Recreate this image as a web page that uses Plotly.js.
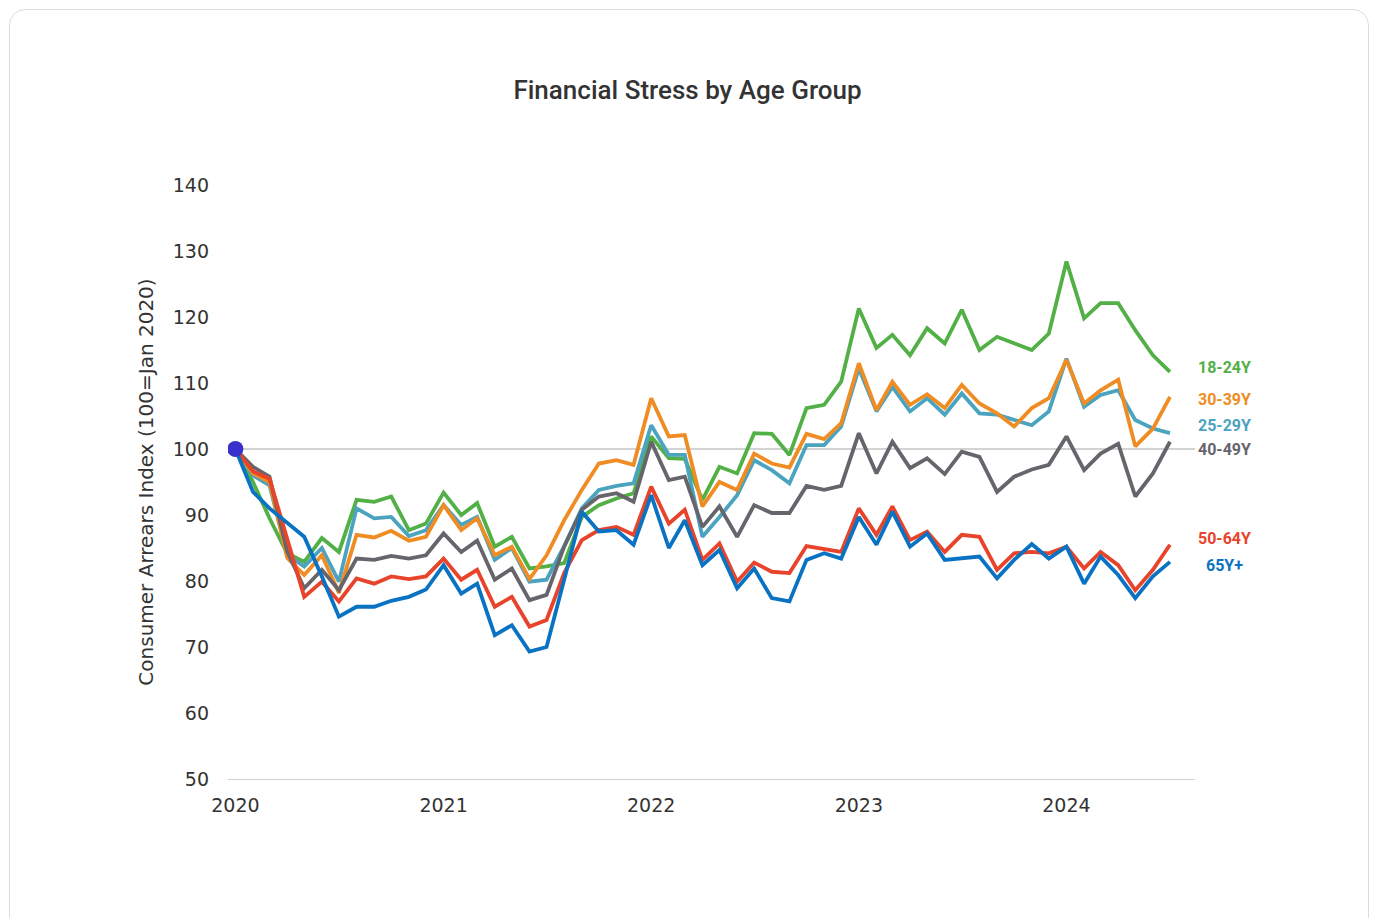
<!DOCTYPE html>
<html>
<head>
<meta charset="utf-8">
<script src="https://cdn.plot.ly/plotly-3.0.1.min.js"></script>
<style>
  html, body { margin: 0; padding: 0; background: #ffffff; width: 1375px; height: 918px; overflow: hidden; }
  #card { position: absolute; left: 9px; top: 9px; width: 1360px; height: 930px; border: 1px solid #dcdcdc; border-radius: 16px; box-sizing: border-box; pointer-events: none; z-index: 2; }
  #chart { position: absolute; left: 0; top: 0; width: 1375px; height: 918px; z-index: 1; }
</style>
</head>
<body>
<div id="chart"></div>
<div id="card"></div>
<script>
// Monthly dates Jan 2020 .. Jul 2024
const months = [
  "2020-01-01","2020-02-01","2020-03-01","2020-04-01","2020-05-01","2020-06-01","2020-07-01","2020-08-01","2020-09-01","2020-10-01","2020-11-01","2020-12-01",
  "2021-01-01","2021-02-01","2021-03-01","2021-04-01","2021-05-01","2021-06-01","2021-07-01","2021-08-01","2021-09-01","2021-10-01","2021-11-01","2021-12-01",
  "2022-01-01","2022-02-01","2022-03-01","2022-04-01","2022-05-01","2022-06-01","2022-07-01","2022-08-01","2022-09-01","2022-10-01","2022-11-01","2022-12-01",
  "2023-01-01","2023-02-01","2023-03-01","2023-04-01","2023-05-01","2023-06-01","2023-07-01","2023-08-01","2023-09-01","2023-10-01","2023-11-01","2023-12-01",
  "2024-01-01","2024-02-01","2024-03-01","2024-04-01","2024-05-01","2024-06-01","2024-07-01"
];

const groupNames = ["18-24Y", "25-29Y", "30-39Y", "40-49Y", "50-64Y", "65Y+"];

const age18to24 = [100,95,89.5,84.2,82.9,86.5,84.4,92.3,92,92.8,87.7,88.7,
  93.4,90,91.8,85.2,86.7,81.9,82.2,82.7,89.7,91.5,92.5,93.3,
  101.9,98.6,98.5,92.3,97.3,96.3,102.4,102.3,99.1,106.2,106.7,110.2,
  121.3,115.3,117.3,114.2,118.3,116,121.1,115,117,116,115,117.5,
  128.4,119.8,122.1,122.1,118,114.2,111.7];

const age25to29 = [100,96,94.5,84,82.2,85,79.9,91,89.5,89.7,86.8,87.7,
  91.5,88.5,89.7,83.2,85,79.9,80.2,85.3,91,93.8,94.4,94.8,
  103.6,99.1,99.1,86.7,89.7,93,98.3,96.8,94.8,100.6,100.6,103.4,
  112.2,105.7,109.4,105.7,107.7,105.2,108.4,105.4,105.2,104.4,103.6,105.7,
  113.7,106.4,108.2,108.9,104.4,103.1,102.4];

const age30to39 = [100,96.3,95,83.5,80.9,83.9,78.2,87,86.6,87.6,86.1,86.7,
  91.5,87.7,89.5,83.9,85.2,80.3,83.9,89.2,93.8,97.8,98.3,97.6,
  107.7,101.9,102.1,91.3,95,93.8,99.3,97.8,97.2,102.3,101.5,103.9,
  113,105.9,110.2,106.7,108.3,106.2,109.7,106.9,105.4,103.4,106.2,107.7,
  113.5,106.9,108.9,110.5,100.4,103.1,107.9];

const age40to49 = [100,97.3,95.8,84.5,78.9,81.7,78.6,83.4,83.2,83.8,83.4,83.9,
  87.2,84.4,86.1,80.2,81.9,77.1,77.9,85.2,90.8,92.8,93.3,92,
  101.1,95.3,95.8,88.2,91.3,86.7,91.5,90.3,90.3,94.4,93.8,94.4,
  102.4,96.3,101.1,97.1,98.6,96.2,99.6,98.8,93.5,95.8,96.9,97.6,
  101.9,96.8,99.3,100.8,92.8,96.3,101.1];

const age50to64 = [100,96.6,95.5,86.5,77.6,79.9,76.9,80.4,79.6,80.7,80.3,80.7,
  83.4,80.2,81.7,76.1,77.6,73.1,74.1,81.2,86.2,87.7,88.2,87,
  94.3,88.7,90.8,83.2,85.7,79.9,82.8,81.4,81.2,85.3,84.8,84.4,
  91,87,91.3,86.2,87.5,84.4,87,86.7,81.7,84.2,84.4,84.2,
  85.2,81.9,84.4,82.4,78.6,81.7,85.5];

const age65plus = [100,93.5,91,88.8,86.7,80.7,74.6,76.1,76.1,77,77.6,78.7,
  82.4,78.1,79.6,71.8,73.3,69.3,70,80.2,90.5,87.5,87.7,85.5,
  93,85,89.2,82.4,84.7,78.9,81.9,77.4,76.9,83.2,84.2,83.4,
  89.7,85.5,90.5,85.2,87.2,83.2,83.4,83.7,80.4,83.2,85.6,83.4,
  85.2,79.6,83.7,80.9,77.4,80.7,82.9];

const yTickValues = [50,60,70,80,90,100,110,120,130,140];
const xTickValues = ["2020-01-01","2021-01-01","2022-01-01","2023-01-01","2024-01-01"];
const xTickLabels = ["2020","2021","2022","2023","2024"];
const baselineValue = 100;

// ---- styling ----
const seriesValues = [age18to24, age25to29, age30to39, age40to49, age50to64, age65plus];
const colors = ["#52b046", "#4aa3bf", "#ef8c23", "#66656c", "#e8432b", "#0a72c2"];

const traces = seriesValues.map((vals, i) => ({
  type: "scatter", mode: "lines", name: groupNames[i],
  x: months, y: vals,
  line: { color: colors[i], width: 3.8 },
  hoverinfo: "x+y+name"
}));

traces.push({
  type: "scatter", mode: "markers", x: [months[0]], y: [age18to24[0]],
  marker: { color: "#3a30cc", size: 16 }, showlegend: false, hoverinfo: "skip"
});

// end labels with simple collision avoidance
const ends = seriesValues.map((v, i) => ({ i, y: v[v.length - 1] }));
ends.sort((a, b) => b.y - a.y);
const pos = ends.map(e => e.y);
const gap = 3.7;
for (let it = 0; it < 200; it++) {
  let moved = false;
  for (let k = 0; k < pos.length - 1; k++) {
    const d = pos[k] - pos[k + 1];
    if (d < gap) {
      const push = (gap - d) / 2;
      pos[k] += push; pos[k + 1] -= push; moved = true;
    }
  }
  if (!moved) break;
}
const annotations = ends.map((e, k) => ({
  xref: "x", yref: "y", x: months[months.length - 1], y: pos[k],
  text: "<b>" + groupNames[e.i] + "</b>", showarrow: false,
  xanchor: "center", yanchor: "middle", xshift: 55, yshift: k === 0 ? 4 : (k === 1 ? -3 : (k === 4 ? 3 : 0)),
  font: { family: "Roboto, Arial, sans-serif", size: 16, color: colors[e.i] }
}));

const layout = {
  width: 1375, height: 918,
  paper_bgcolor: "rgba(0,0,0,0)", plot_bgcolor: "rgba(0,0,0,0)",
  margin: { l: 228, r: 180, t: 185, b: 139 },
  showlegend: false,
  title: {
    text: "Financial Stress by Age Group",
    x: 0.5, xref: "container", xanchor: "center", y: 0.902, yanchor: "middle",
    font: { family: "Roboto, sans-serif", size: 26, color: "#333333", weight: 500 }
  },
  xaxis: {
    type: "date",
    range: ["2019-12-19", "2024-08-14"],
    tickvals: xTickValues, ticktext: xTickLabels,
    showgrid: false, zeroline: false,
    showline: true, linecolor: "#d0d0d0", linewidth: 1,
    ticks: "", ticklabelstandoff: 9,
    tickfont: { family: "DejaVu Sans, sans-serif", size: 19, color: "#333333" }
  },
  yaxis: {
    range: [50, 140],
    tickvals: yTickValues,
    showgrid: false, zeroline: false, showline: false,
    ticks: "", ticklabelstandoff: 18,
    tickfont: { family: "DejaVu Sans, sans-serif", size: 19, color: "#333333" },
    title: {
      text: "Consumer Arrears Index (100=Jan 2020)", standoff: 13,
      font: { family: "DejaVu Sans, sans-serif", size: 20, color: "#333333" }
    }
  },
  shapes: [{
    type: "line", xref: "x", yref: "y",
    x0: months[0], x1: "2024-08-14", y0: baselineValue, y1: baselineValue,
    line: { color: "#c4c4c4", width: 1.5 }, layer: "below"
  }],
  annotations: annotations
};

Plotly.newPlot("chart", traces, layout, { displayModeBar: false, staticPlot: true });
</script>
</body>
</html>
